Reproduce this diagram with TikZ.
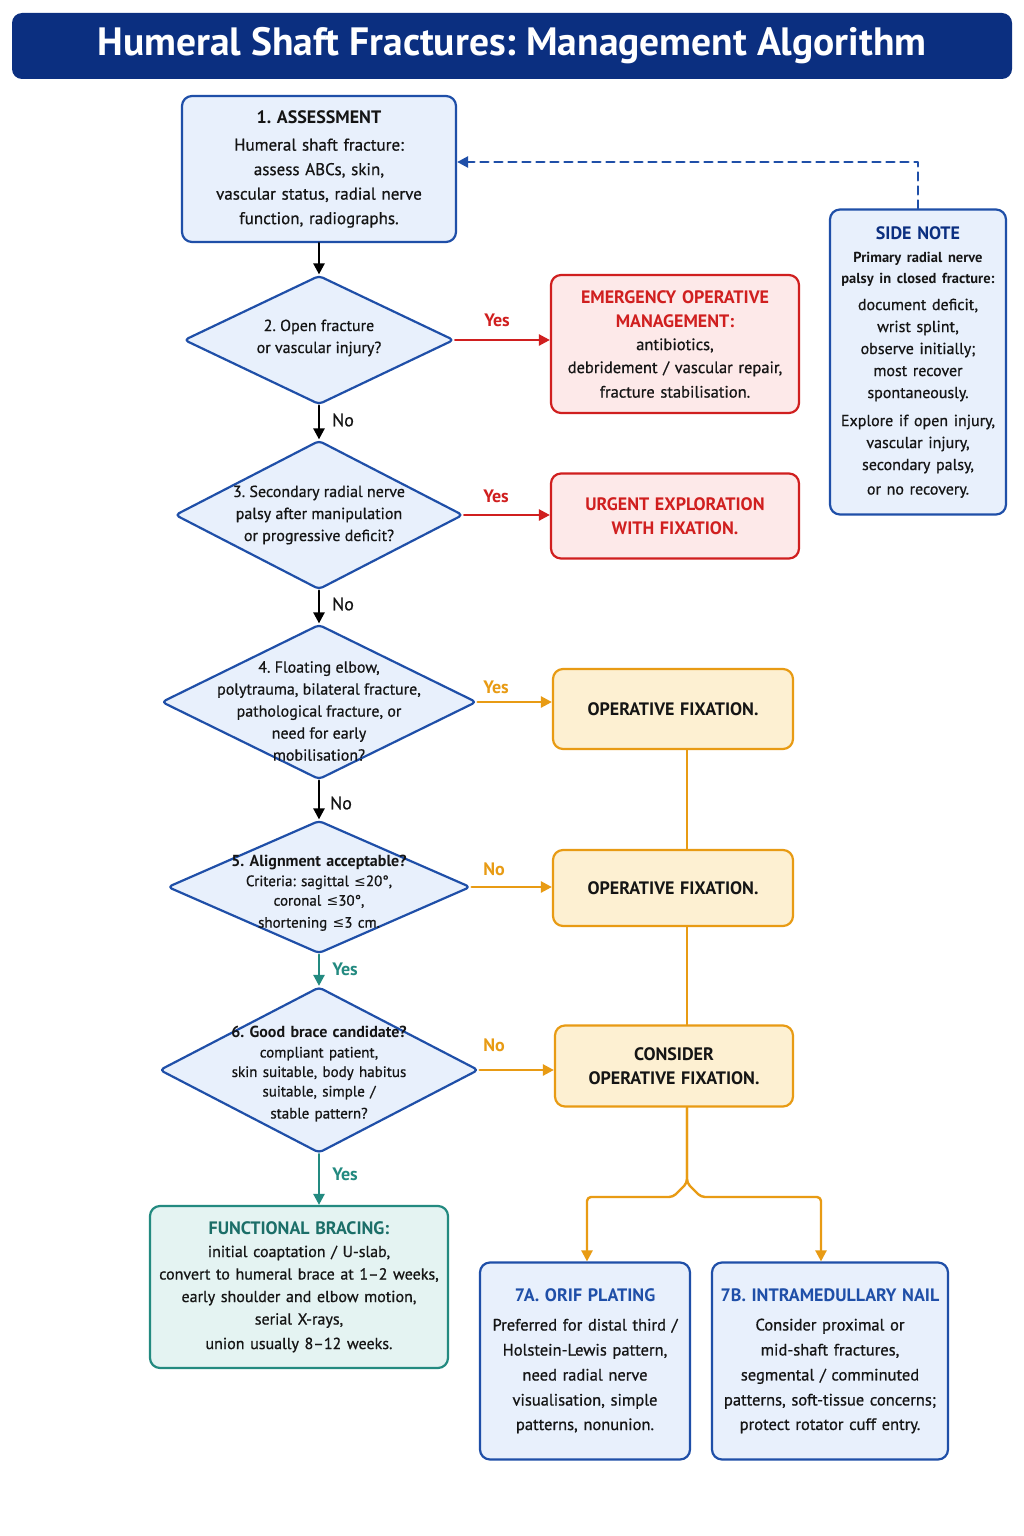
\documentclass[tikz,border=0pt]{standalone}
\usepackage{fontspec}
\setmainfont{PT Sans}[UprightFeatures={FakeBold=0.7}]
\newfontfamily\symfont{DejaVu Sans}
\usetikzlibrary{shapes.geometric,arrows.meta,positioning}
\definecolor{navy}{HTML}{0B2F80}
\definecolor{bluebd}{HTML}{1F4FA8}
\definecolor{bluebg}{HTML}{E8F0FC}
\definecolor{redbd}{HTML}{D01F1F}
\definecolor{redbg}{HTML}{FDE9E9}
\definecolor{orangebd}{HTML}{E89B14}
\definecolor{orangebg}{HTML}{FDF0D2}
\definecolor{tealbd}{HTML}{238A80}
\definecolor{tealbg}{HTML}{E4F3F2}
\definecolor{tealtx}{HTML}{1B6E68}
\definecolor{ink}{HTML}{151515}
\newcommand{\lessq}{{\symfont\fontsize{14}{18}\selectfont ≤}}
\newcommand{\boxhead}[2]{{\color{#1}\bfseries\fontsize{18}{24}\selectfont #2\par}}
\frenchspacing

\begin{document}
\begin{tikzpicture}[x=1pt, y=-1pt, line join=round, line cap=round,
    >={Triangle[length=11pt,width=11pt]},
    font=\fontsize{17}{24.5}\selectfont, text=ink,
    card/.style={draw=bluebd, fill=bluebg, line width=2.2pt, rounded corners=10pt, align=center, inner sep=0pt},
    redcard/.style={card, draw=redbd, fill=redbg},
    orcard/.style={card, draw=orangebd, fill=orangebg},
    tealcard/.style={card, draw=tealbd, fill=tealbg},
    dia/.style={diamond, draw=bluebd, fill=bluebg, line width=2.2pt, rounded corners=4pt, inner sep=0pt},
    dtext/.style={align=center, inner sep=0pt, font=\fontsize{16}{22}\selectfont},
    go/.style={->, line width=2.4pt},
    lbl/.style={font=\fontsize{18}{20}\selectfont},
    lblb/.style={font=\fontsize{18}{20}\selectfont\bfseries}]

    \fill[white] (0,0) rectangle (1024,1536);
    \useasboundingbox (0,0) rectangle (1024,1536);

    % title bar
    \node[fill=navy, rounded corners=10pt, minimum width=1000pt, minimum height=66pt, text=white,
        font=\fontsize{39.5}{44}\selectfont\bfseries] (title) at (512,46) {Humeral Shaft Fractures: Management Algorithm};

    % main column
    \node[card, minimum width=274pt, minimum height=146pt, text width=264pt] (assess) at (319,169)
        {\boxhead{ink}{1. ASSESSMENT}\vspace{3pt}Humeral shaft fracture:\\assess ABCs, skin,\\vascular status, radial nerve\\function, radiographs.};

    \node[dia, minimum width=270pt, minimum height=129pt] (open) at (319,340) {};
    \node[dtext] (opentext) at (319,338) {2. Open fracture\\or vascular injury?};

    \node[dia, minimum width=288pt, minimum height=149pt] (second) at (319,515) {};
    \node[dtext] (secondtext) at (319,515) {3. Secondary radial nerve\\palsy after manipulation\\or progressive deficit?};

    \node[dia, minimum width=315pt, minimum height=155pt] (floating) at (319,702) {};
    \node[dtext] (floatingtext) at (319,711) {4. Floating elbow,\\polytrauma, bilateral fracture,\\pathological fracture, or\\need for early\\mobilisation?};

    \node[dia, minimum width=303pt, minimum height=133pt] (align) at (319,887) {};
    \node[dtext, text width=280pt] (aligntext) at (319,893)
        {{\bfseries 5. Alignment acceptable?\par}\fontsize{15}{19.5}\selectfont
        Criteria: sagittal \lessq20°,\\coronal \lessq30°,\\shortening \lessq3 cm.};

    \node[dia, minimum width=319pt, minimum height=166pt] (brace) at (319,1070) {};
    \node[dtext, text width=280pt] (bracetext) at (319,1074)
        {{\bfseries 6. Good brace candidate?\par}\fontsize{15}{19.5}\selectfont
        compliant patient,\\skin suitable, body habitus\\suitable, simple /\\stable pattern?};

    \node[tealcard, minimum width=298pt, minimum height=162pt, text width=290pt] (bracing) at (299,1287)
        {\boxhead{tealtx}{FUNCTIONAL BRACING:}\fontsize{16}{22.5}\selectfont initial coaptation / U-slab,\\convert to humeral brace at 1--2 weeks,\\early shoulder and elbow motion,\\serial X-rays,\\union usually 8--12 weeks.};

    % right column
    \node[redcard, minimum width=248pt, minimum height=138pt, text width=240pt] (emerg) at (675,344)
        {\boxhead{redbd}{EMERGENCY OPERATIVE\\MANAGEMENT:}\fontsize{16.5}{23}\selectfont antibiotics,\\debridement / vascular repair,\\fracture stabilisation.};
    \node[redcard, minimum width=248pt, minimum height=85pt, text width=240pt] (urgent) at (675,516)
        {\boxhead{redbd}{URGENT EXPLORATION\\WITH FIXATION.}};

    \node[orcard, minimum width=240pt, minimum height=80pt, text width=230pt] (opfixa) at (673,709) {\boxhead{ink}{OPERATIVE FIXATION.}};
    \node[orcard, minimum width=240pt, minimum height=76pt, text width=230pt] (opfixb) at (673,888) {\boxhead{ink}{OPERATIVE FIXATION.}};
    \node[orcard, minimum width=238pt, minimum height=81pt, text width=230pt] (consider) at (674,1066) {\boxhead{ink}{CONSIDER\\OPERATIVE FIXATION.}};

    \node[card, minimum width=210pt, minimum height=197pt, text width=204pt] (plate) at (585,1361)
        {\boxhead{bluebd}{7A. ORIF PLATING}\vspace{4pt}\fontsize{16.5}{25}\selectfont Preferred for distal third /\\Holstein-Lewis pattern,\\need radial nerve\\visualisation, simple\\patterns, nonunion.};
    \node[card, minimum width=236pt, minimum height=197pt, text width=230pt] (nail) at (830,1361)
        {\boxhead{bluebd}{7B. INTRAMEDULLARY NAIL}\vspace{4pt}\fontsize{16.5}{25}\selectfont Consider proximal or\\mid-shaft fractures,\\segmental / comminuted\\patterns, soft-tissue concerns;\\protect rotator cuff entry.};

    % side note
    \node[card, minimum width=176pt, minimum height=305pt, text width=172pt] (note) at (918,362)
        {\boxhead{navy}{SIDE NOTE}\vspace{2pt}{\bfseries\fontsize{14.5}{21}\selectfont Primary radial nerve\\palsy in closed fracture:\par}\vspace{5pt}%
        \fontsize{16}{22}\selectfont document deficit,\\wrist splint,\\observe initially;\\most recover\\spontaneously.\par\vspace{6pt}%
        Explore if open injury,\\vascular injury,\\secondary palsy,\\or no recovery.};

    % connectors
    \draw[go] (assess) -- (open);
    \draw[go] (open) -- (second);
    \draw[go] (second) -- (floating);
    \draw[go] (floating) -- (align);
    \draw[go, tealbd] (align) -- (brace);
    \draw[go, tealbd] (brace) -- (bracing.north -| brace);

    \draw[go, redbd] (open.east) -- (open.east -| emerg.west);
    \draw[go, redbd] (second.east) -- (second.east -| urgent.west);
    \draw[go, orangebd] (floating.east) -- (floating.east -| opfixa.west);
    \draw[go, orangebd] (align.east) -- (align.east -| opfixb.west);
    \draw[go, orangebd] (brace.east) -- (brace.east -| consider.west);

    \coordinate (fork) at (687,1183);
    \draw[line width=2.4pt, orangebd] (opfixa.south -| fork) -- (opfixb.north -| fork);
    \draw[line width=2.4pt, orangebd] (opfixb.south -| fork) -- (consider.north -| fork);
    \draw[go, orangebd, rounded corners=4pt] (consider.south -| fork) -- (fork) -- ++(-14,14) -| ([xshift=2pt]plate.north);
    \draw[go, orangebd, rounded corners=4pt] (consider.south -| fork) -- (fork) -- ++(14,14) -| ([xshift=-9pt]nail.north);

    \draw[go, bluebd, dash pattern=on 8pt off 6pt] (note.north) |- ([yshift=7pt]assess.east);

    % labels
    \node[lblb, text=redbd] (yesopen) at (497,320) {Yes};
    \node[lblb, text=redbd] (yessecond) at (496,496) {Yes};
    \node[lblb, text=orangebd] (yesfloating) at (496,687) {Yes};
    \node[lblb, text=orangebd] (noalign) at (494,869) {No};
    \node[lblb, text=orangebd] (nobrace) at (494,1045) {No};
    \node[lbl] (noopen) at (343,420) {No};
    \node[lbl] (nosecond) at (343,604) {No};
    \node[lbl] (nofloating) at (341,803) {No};
    \node[lblb, text=tealbd] (yesalign) at (345,969) {Yes};
    \node[lblb, text=tealbd] (yesbrace) at (345,1174) {Yes};
\end{tikzpicture}
\end{document}
